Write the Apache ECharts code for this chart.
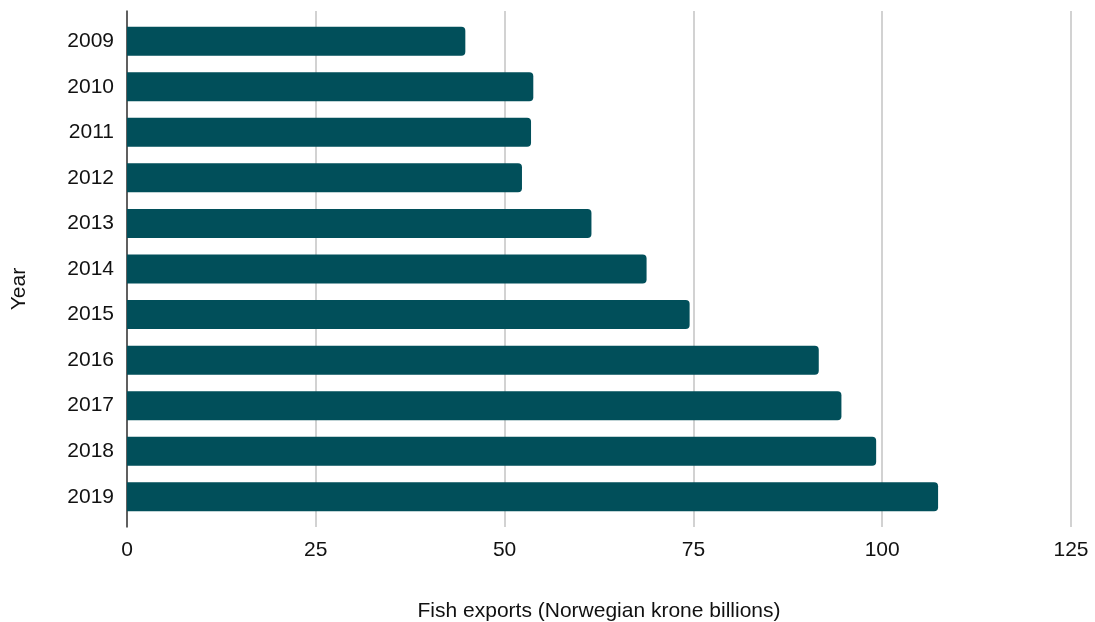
<!DOCTYPE html>
<html>
<head>
<meta charset="utf-8">
<title>Fish exports</title>
<script src="https://cdn.jsdelivr.net/npm/echarts@6/dist/echarts.min.js"></script>
<style>
  html, body { margin: 0; padding: 0; background: #ffffff; }
  #chart { width: 1095px; height: 622px; }
</style>
</head>
<body>
<div id="chart"></div>
<script>
// Norwegian fish exports by year, NOK billions
const years = ['2009', '2010', '2011', '2012', '2013', '2014', '2015', '2016', '2017', '2018', '2019'];
const exportsNok = [44.8, 53.8, 53.5, 52.3, 61.5, 68.8, 74.5, 91.6, 94.6, 99.2, 107.4];
const xTicks = [0, 25, 50, 75, 100, 125];

const FONT = '"Liberation Sans", Arial, sans-serif';
const TEXT = '#111111';
const BAR = '#014f5a';
const FS = 21;

const chart = echarts.init(document.getElementById('chart'), null, { renderer: 'canvas' });

chart.setOption({
  animation: false,
  backgroundColor: '#ffffff',
  textStyle: { fontFamily: FONT },
  grid: [
    // frame: value scale, gridlines and the left axis line
    { left: 127, right: 24, top: 11, bottom: 95, outerBoundsMode: 'none', containLabel: false },
    // bars and year labels
    { left: 127, right: 24, top: 18.4, bottom: 102.4, outerBoundsMode: 'none', containLabel: false }
  ],
  xAxis: [
    {
      gridIndex: 0,
      type: 'value',
      min: xTicks[0],
      max: xTicks[xTicks.length - 1],
      interval: xTicks[1] - xTicks[0],
      axisLine: { show: false },
      axisTick: { show: false },
      splitLine: { show: true, lineStyle: { color: '#d2d2d2', width: 2 } },
      axisLabel: { color: TEXT, fontSize: FS, fontFamily: FONT, margin: 13 },
      name: 'Fish exports (Norwegian krone billions)',
      nameLocation: 'middle',
      nameGap: 74,
      nameTextStyle: { color: TEXT, fontSize: FS, fontFamily: FONT }
    },
    {
      gridIndex: 1,
      type: 'value',
      min: xTicks[0],
      max: xTicks[xTicks.length - 1],
      show: false
    }
  ],
  yAxis: [
    {
      gridIndex: 0,
      type: 'value',
      min: 0,
      max: 1,
      axisLine: { show: true, lineStyle: { color: '#3a3a3a', width: 1.5 } },
      axisTick: { show: false },
      axisLabel: { show: false },
      splitLine: { show: false }
    },
    {
      gridIndex: 1,
      type: 'category',
      data: years,
      inverse: true,
      axisLine: { show: false },
      axisTick: { show: false },
      axisLabel: { color: TEXT, fontSize: FS, fontFamily: FONT, margin: 13 }
    }
  ],
  graphic: [
    {
      type: 'text',
      x: 19,
      y: 289,
      rotation: Math.PI / 2,
      style: {
        text: 'Year',
        x: 0,
        y: 0,
        align: 'center',
        verticalAlign: 'middle',
        fill: TEXT,
        font: FS + 'px ' + FONT
      }
    }
  ],
  series: [
    {
      type: 'bar',
      xAxisIndex: 1,
      yAxisIndex: 1,
      data: exportsNok,
      barWidth: 29,
      itemStyle: { color: BAR, borderRadius: [0, 4, 4, 0] }
    }
  ]
});
</script>
</body>
</html>
